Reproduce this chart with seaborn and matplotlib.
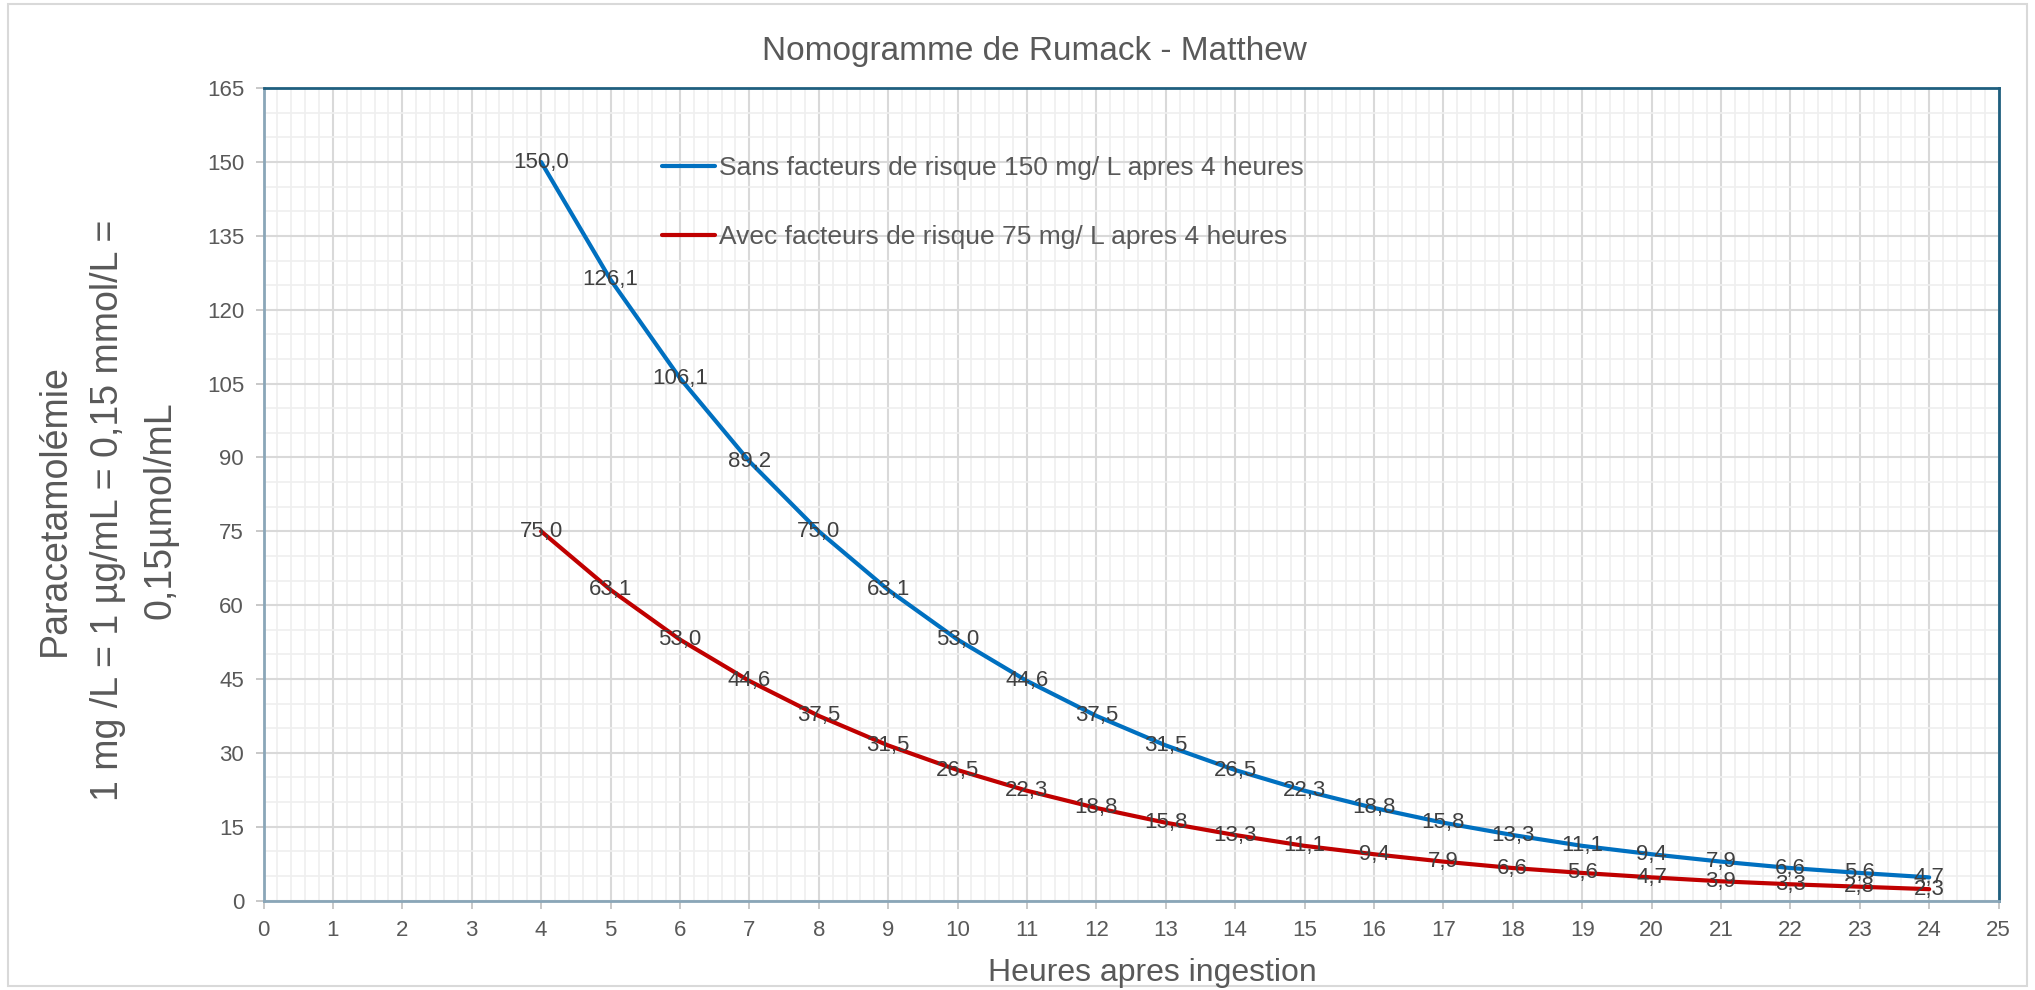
"""
Nomogramme de Rumack - Matthew
Recréation du graphique Excel avec seaborn.
"""

import numpy as np
import pandas as pd
import matplotlib
matplotlib.use("Agg")
import matplotlib.pyplot as plt
from matplotlib.patches import Rectangle
from matplotlib.ticker import MultipleLocator
import seaborn as sns

# Données
heures = [4, 5, 6, 7, 8, 9, 10, 11, 12, 13, 14, 15, 16, 17, 18, 19, 20, 21, 22, 23, 24]
sans_risque = [150.0, 126.1, 106.1, 89.2, 75.0, 63.1, 53.0, 44.6, 37.5, 31.5, 26.5,
               22.3, 18.8, 15.8, 13.3, 11.1, 9.4, 7.9, 6.6, 5.6, 4.7]
avec_risque = [75.0, 63.1, 53.0, 44.6, 37.5, 31.5, 26.5, 22.3, 18.8, 15.8, 13.3,
               11.1, 9.4, 7.9, 6.6, 5.6, 4.7, 3.9, 3.3, 2.8, 2.3]
serie_sans = "Sans facteurs de risque 150 mg/ L apres 4 heures"
serie_avec = "Avec facteurs de risque 75 mg/ L apres 4 heures"

df = pd.DataFrame({
    "heure": heures * 2,
    "valeur": sans_risque + avec_risque,
    "serie": [serie_sans] * len(heures) + [serie_avec] * len(heures),
})

sns.set_theme(style="white")
plt.rcParams['font.family'] = ['Liberation Sans Narrow', 'Liberation Sans', 'DejaVu Sans']
GRIS = "#595959"

fig = plt.figure(figsize=(20.35, 9.9), dpi=100)
ax = fig.add_axes([0.1295, 0.0904, 0.8526, 0.8205])

# grille façon Excel
ax.xaxis.set_major_locator(MultipleLocator(1))
ax.xaxis.set_minor_locator(MultipleLocator(0.2))
ax.yaxis.set_major_locator(MultipleLocator(15))
ax.yaxis.set_minor_locator(MultipleLocator(5))
ax.grid(which="minor", color="#efefef", linewidth=1.2)
ax.grid(which="major", color="#d9d9d9", linewidth=1.5)
ax.set_axisbelow(True)

sns.lineplot(data=df, x="heure", y="valeur", hue="serie", ax=ax,
             palette={serie_sans: "#0070C0", serie_avec: "#C00000"},
             linewidth=3, legend=True)

# étiquettes de données
for x, v in zip(heures, sans_risque):
    ax.text(x, v, f"{v:.1f}".replace(".", ","), ha="center", va="center",
            fontsize=16, color="#404040")
for x, v in zip(heures, avec_risque):
    ax.text(x, v, f"{v:.1f}".replace(".", ","), ha="center", va="center",
            fontsize=16, color="#404040")

ax.set_xlim(0, 25)
ax.set_ylim(0, 165)
ax.tick_params(axis="both", which="major", direction="out", length=6, width=1.2,
               color="#bfbfbf", labelsize=16, labelcolor=GRIS, pad=8,
               bottom=True, left=True)
ax.tick_params(which="minor", length=0)
ax.set_xlabel("")
ax.set_ylabel("")

for s in ["top", "right"]:
    ax.spines[s].set_color("#1F5F7F")
    ax.spines[s].set_linewidth(2)
for s in ["left", "bottom"]:
    ax.spines[s].set_color("#8AA6B8")
    ax.spines[s].set_linewidth(2)

leg = ax.legend(loc="upper left", bbox_to_anchor=(0.2296, 0.916), frameon=False,
                fontsize=19, handlelength=2.0, handletextpad=0.15,
                labelspacing=1.7, borderpad=0, borderaxespad=0)
for t in leg.get_texts():
    t.set_color(GRIS)

fig.text(0.5085, 0.948, "Nomogramme de Rumack - Matthew", ha="center", va="center",
         fontsize=24, color=GRIS)
fig.text(0.5665, 0.017, "Heures apres ingestion", ha="center", va="center",
         fontsize=23, color=GRIS)
fig.text(0.053, 0.485,
         "Paracetamolémie\n1 mg /L = 1 µg/mL = 0,15 mmol/L =\n0,15µmol/mL",
         ha="center", va="center", rotation=90, multialignment="center",
         fontsize=27, color=GRIS, linespacing=1.6)

# bordure de la zone du graphique
fig.patches.append(Rectangle((0.004, 0.004), 0.992, 0.992, transform=fig.transFigure,
                             fill=False, edgecolor="#d9d9d9", linewidth=1.5))

fig.savefig("out.png", dpi=100)
